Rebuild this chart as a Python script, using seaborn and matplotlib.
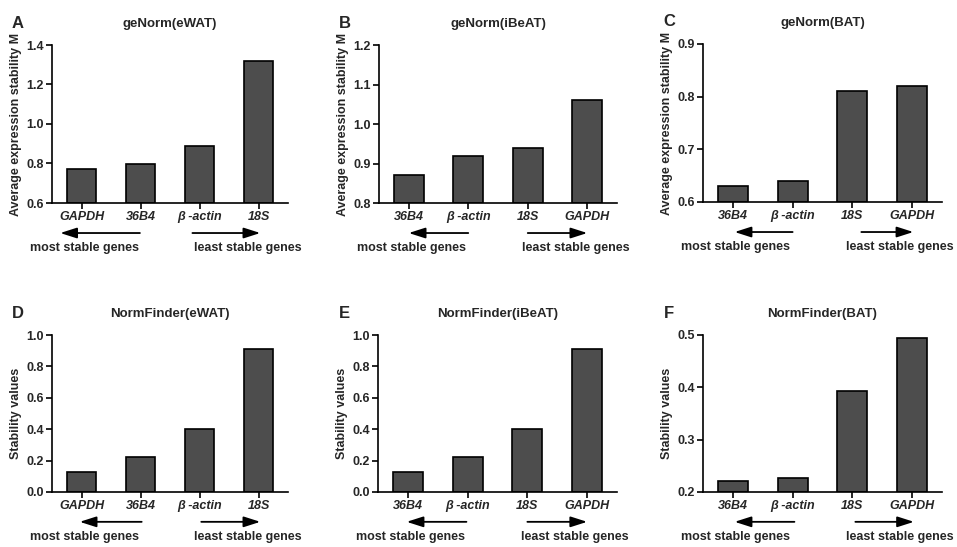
import matplotlib
matplotlib.use("Agg")
import matplotlib.pyplot as plt
import seaborn as sns
import pandas as pd

sns.set_style("ticks")
plt.rcParams['font.family'] = ['Liberation Sans', 'DejaVu Sans']
plt.rcParams['font.weight'] = 'bold'

# data
genes_A = ["GAPDH", "36B4", "β -actin", "18S"]
vals_A = [0.77, 0.80, 0.89, 1.32]
genes_B = ["36B4", "β -actin", "18S", "GAPDH"]
vals_B = [0.87, 0.92, 0.94, 1.06]
genes_C = ["36B4", "β -actin", "18S", "GAPDH"]
vals_C = [0.63, 0.64, 0.81, 0.82]
genes_D = ["GAPDH", "36B4", "β -actin", "18S"]
vals_D = [0.13, 0.22, 0.40, 0.91]
genes_E = ["36B4", "β -actin", "18S", "GAPDH"]
vals_E = [0.13, 0.22, 0.40, 0.91]
genes_F = ["36B4", "β -actin", "18S", "GAPDH"]
vals_F = [0.221, 0.227, 0.393, 0.494]

titles = ["geNorm(eWAT)", "geNorm(iBeAT)", "geNorm(BAT)",
          "NormFinder(eWAT)", "NormFinder(iBeAT)", "NormFinder(BAT)"]
letters = ["A", "B", "C", "D", "E", "F"]
ylabels = ["Average expression stability M"] * 3 + ["Stability values"] * 3
ylims = [(0.6, 1.4, 0.2), (0.8, 1.2, 0.1), (0.6, 0.9, 0.1),
         (0.0, 1.0, 0.2), (0.0, 1.0, 0.2), (0.2, 0.5, 0.1)]
genes = [genes_A, genes_B, genes_C, genes_D, genes_E, genes_F]
vals = [vals_A, vals_B, vals_C, vals_D, vals_E, vals_F]

W, H = 957, 547
fig = plt.figure(figsize=(W / 100, H / 100), dpi=100)
fig.patch.set_facecolor("white")

lefts = [52, 379, 703, 52, 378, 703]
rights = [288, 617, 942, 288, 617, 942]
tops = [45, 45, 44, 335, 335, 335]
bottoms = [203, 203, 202, 492, 492, 492]
# arrow ends (data x) : (left arrow start, tip), (right arrow start, tip)
arrows = [(0.99, -0.36, 1.88, 3.03), (1.0, 0.0, 2.0, 3.0), (1.0, 0.03, 2.15, 3.02),
          (1.02, -0.03, 2.03, 3.03), (0.98, -0.02, 2.0, 3.0), (1.03, 0.03, 2.05, 3.03)]

fs = 9
for i in range(6):
    l, r, t, b = lefts[i], rights[i], tops[i], bottoms[i]
    ax = fig.add_axes([l / W, 1 - b / H, (r - l) / W, (b - t) / H])
    df = pd.DataFrame({"gene": genes[i], "val": vals[i]})
    lo, hi, step = ylims[i]
    sns.barplot(data=df, x="gene", y="val", ax=ax, color="#4d4d4d", saturation=1,
                width=0.5, edgecolor="black", linewidth=1.2)
    for p in ax.patches:
        p.set_y(lo)
        p.set_height(p.get_height() - lo)
    ax.set_ylim(lo, hi)
    ax.set_xlim(-0.5, 3.5)
    n = int(round((hi - lo) / step))
    ax.set_yticks([lo + k * step for k in range(n + 1)])
    ax.set_yticklabels(["%.1f" % (lo + k * step) for k in range(n + 1)],
                       fontsize=fs, fontweight="bold")
    ax.set_xticks(range(4))
    ax.set_xticklabels(genes[i], fontsize=fs, fontweight="bold", style="italic")
    ax.set_xlabel("")
    ax.set_ylabel(ylabels[i], fontsize=fs, fontweight="bold", labelpad=3)
    ax.set_title(titles[i], fontsize=9.5, fontweight="bold", pad=13)
    sns.despine(ax=ax)
    for s in ["left", "bottom"]:
        ax.spines[s].set_linewidth(1.2)
        ax.spines[s].set_color("black")
    ax.tick_params(axis="both", length=4, width=1.2, color="black", pad=2)
    ax.set_facecolor("white")

    a1, a2, a3, a4 = arrows[i]
    tr = ax.get_xaxis_transform()
    for s0, s1 in [(a1, a2), (a3, a4)]:
        ax.annotate("", xy=(s1, -0.19), xytext=(s0, -0.19), xycoords=tr, textcoords=tr,
                    annotation_clip=False,
                    arrowprops=dict(arrowstyle="-|>,head_length=1.0,head_width=0.32",
                                    color="black", lw=1.3, shrinkA=0, shrinkB=0))
    ax.text(-0.87, -0.285, "most stable genes", transform=tr, fontsize=fs,
            fontweight="bold", ha="left", va="center")
    ax.text(1.9, -0.285, "least stable genes", transform=tr, fontsize=fs,
            fontweight="bold", ha="left", va="center")

    fig.text((l - 34) / W, 1 - (t - 22) / H, letters[i], fontsize=12,
             fontweight="bold", ha="center", va="center")

fig.savefig("out.png", dpi=100)
